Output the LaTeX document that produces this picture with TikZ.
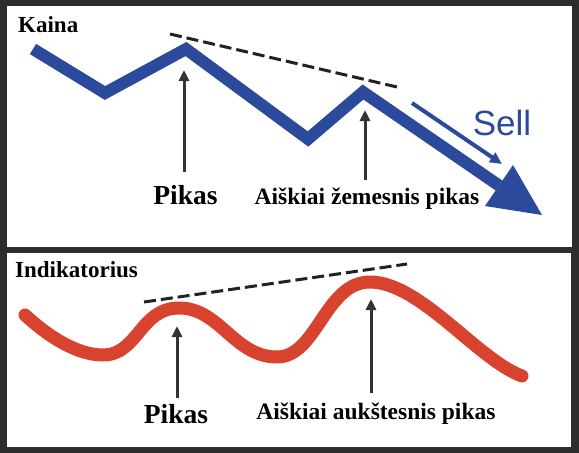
\documentclass[tikz,border=0pt]{standalone}
\usepackage{fontspec}
\setmainfont{Liberation Serif}
\newfontfamily\sellfont{Liberation Sans}
\usetikzlibrary{arrows.meta}
\definecolor{bg}{HTML}{2D2D2D}
\definecolor{priceblue}{HTML}{2C4A9C}
\definecolor{indred}{HTML}{D8432F}
\definecolor{ptrgray}{HTML}{333333}
\definecolor{dashk}{HTML}{222222}
\tikzset{
  panel/.style={fill=white,draw=none},
  title/.style={font=\bfseries\fontsize{23}{23}\selectfont,inner sep=0pt,anchor=base west},
  biglabel/.style={font=\bfseries\fontsize{27.5}{28}\selectfont,inner sep=0pt,anchor=base},
  label/.style={font=\bfseries\fontsize{23.5}{24}\selectfont,inner sep=0pt,anchor=base},
  ptr/.style={draw=ptrgray,line width=3pt,-{Triangle[length=11pt,width=10pt]}},
  trend/.style={draw=dashk,line width=3pt,dash pattern=on 12pt off 5pt},
  price/.style={draw=priceblue,line width=12pt,line join=miter,line cap=butt},
  indic/.style={draw=indred,line width=13pt,line cap=round},
}
\begin{document}
\begin{tikzpicture}[x=1pt,y=-1pt]
\fill[bg] (0,0) rectangle (579,453);
\useasboundingbox (0,0) rectangle (579,453);
\fill[panel] (7,6) rectangle (572,247);
\fill[panel] (7,253) rectangle (571,447);

% ---------- top panel ----------
\node[title] (kaina) at (18,32) {Kaina};
\coordinate (p0) at (33,49);
\coordinate (p1) at (105,93);
\coordinate (p2) at (186,49);
\coordinate (p3) at (308,139);
\coordinate (p4) at (363,92);
\coordinate (pb) at (499,185.5);
\coordinate (pt) at (542,215);
\coordinate (pc1) at (513,165);
\coordinate (pc2) at (485,206);
\draw[price] (p0) -- (p1) -- (p2) -- (p3) -- (p4) -- (pb);
\fill[priceblue] (pt) -- (pc1) -- (pc2) -- cycle;

\coordinate (d1s) at (170,34);
\coordinate (d1e) at (397,87);
\draw[trend] (d1s) -- (d1e);

\coordinate (s1) at (412,103);
\coordinate (s2) at (502,164);
\draw[draw=priceblue,line width=4pt,-{Triangle[length=12pt,width=11pt]}] (s1) -- (s2);
\node[font=\sellfont\fontsize{35}{35}\selectfont,text=priceblue,inner sep=0pt] (sell) at (502,123) {Sell};

\coordinate (a1s) at (184,172);
\coordinate (a1e) at (184,70);
\draw[ptr] (a1s) -- (a1e);
\coordinate (a2s) at (365,180);
\coordinate (a2e) at (365,110);
\draw[ptr] (a2s) -- (a2e);
\node[biglabel] (pik1) at (185.5,204) {Pikas};
\node[label] (low) at (367,204) {Aiškiai žemesnis pikas};

% ---------- bottom panel ----------
\node[title] (ind) at (15,277) {Indikatorius};
\coordinate (r0) at (25,315);
\coordinate (r1) at (103,355);
\coordinate (r2) at (179,308);
\coordinate (r3) at (277,357);
\coordinate (r4) at (370,282);
\coordinate (r5) at (522,376);
\draw[indic] (r0) .. controls (50,338) and (78,355) .. (r1)
  .. controls (138,355) and (140,308) .. (r2)
  .. controls (220,308) and (234,357) .. (r3)
  .. controls (317,357) and (325,282) .. (r4)
  .. controls (420,282) and (478,360) .. (r5);

\coordinate (d2s) at (144,302);
\coordinate (d2e) at (407,264);
\draw[trend] (d2s) -- (d2e);

\coordinate (b1s) at (177,398);
\coordinate (b1e) at (177,326);
\draw[ptr] (b1s) -- (b1e);
\coordinate (b2s) at (371,393);
\coordinate (b2e) at (371,299);
\draw[ptr] (b2s) -- (b2e);
\node[biglabel] (pik2) at (176,423) {Pikas};
\node[label] (high) at (376,419) {Aiškiai aukštesnis pikas};
\end{tikzpicture}
\end{document}
